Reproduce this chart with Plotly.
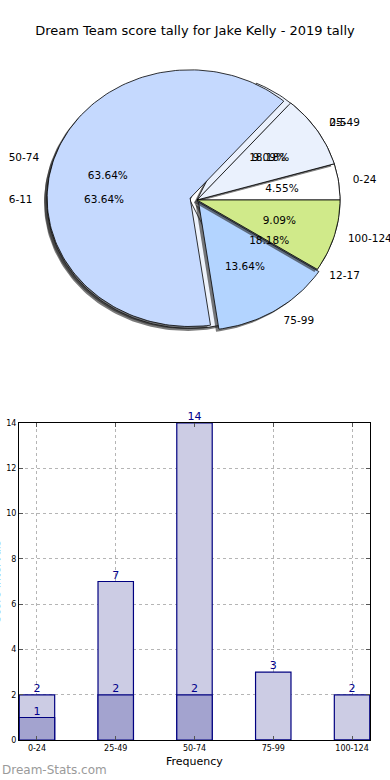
import math
import plotly.graph_objects as go

# ---------------- data ----------------
title_text = "Dream Team score tally for Jake Kelly - 2019 tally"

outer_labels = ['0-24', '25-49', '50-74', '75-99', '100-124']
outer_values = [1, 2, 14, 3, 2]
outer_colors = ['#ffffff', '#eaf1fd', '#c5d9fe', '#b3d4ff', '#d0ea8a']
outer_explode = [0, 0, 0.05, 0.02, 0]

inner_labels = ['0-5', '6-11', '12-17']
inner_values = [4, 14, 4]
inner_colors = ['#eaf1fd', '#eef3fc', '#b3d4ff']
inner_explode = [0, 0.05, 0]

bar_categories = ['0-24', '25-49', '50-74', '75-99', '100-124']
bar_totals = [2, 7, 14, 3, 2]
bar_sub = [1, 2, 2, 0, 0]

W, H = 390, 780
HE = 775.0  # effective rendered height used for pixel -> paper conversion
FONT = "DejaVu Sans"
PIE_FS = 10.5

fig = go.Figure()

# ---------------- pie (drawn as elliptical wedges, matplotlib style) ----------------
def wedge_geom(values, explode):
    total = float(sum(values))
    start = 0.0
    res = []
    for v, e in zip(values, explode):
        frac = v / total
        a0 = start * 360.0
        a1 = (start + frac) * 360.0
        mid = math.radians((a0 + a1) / 2)
        res.append(dict(a0=a0, a1=a1, mid=mid, dx=e * math.cos(mid), dy=e * math.sin(mid), frac=frac))
        start += frac
    return res


def wedge_poly(g, ox=0.0, oy=0.0):
    cx, cy = g['dx'] + ox, g['dy'] + oy
    n = max(4, int((g['a1'] - g['a0']) / 1.5))
    xs, ys = [cx], [cy]
    for i in range(n + 1):
        a = math.radians(g['a0'] + (g['a1'] - g['a0']) * i / n)
        xs.append(cx + math.cos(a))
        ys.append(cy + math.sin(a))
    xs.append(cx)
    ys.append(cy)
    return xs, ys


def add_pie(values, explode, colors):
    geoms = wedge_geom(values, explode)
    for g, c in zip(geoms, colors):
        sx, sy = wedge_poly(g, -0.02, -0.02)
        fig.add_trace(go.Scatter(x=sx, y=sy, mode='lines', fill='toself',
                                 fillcolor='rgba(35,35,35,0.6)', line=dict(width=0),
                                 xaxis='x2', yaxis='y2', hoverinfo='skip', showlegend=False))
        px, py_ = wedge_poly(g)
        fig.add_trace(go.Scatter(x=px, y=py_, mode='lines', fill='toself',
                                 fillcolor=c, line=dict(color='black', width=0.8),
                                 xaxis='x2', yaxis='y2', hoverinfo='skip', showlegend=False))
    return geoms


def add_pie_text(geoms, labels):
    for g, lab in zip(geoms, labels):
        lx = 1.1 * math.cos(g['mid']) + g['dx']
        ly = 1.1 * math.sin(g['mid']) + g['dy']
        pos = 'middle right' if lx > 0 else 'middle left'
        fig.add_trace(go.Scatter(x=[lx], y=[ly], mode='text', text=[lab], textposition=pos,
                                 textfont=dict(family=FONT, size=PIE_FS, color='black'),
                                 xaxis='x2', yaxis='y2', hoverinfo='skip', showlegend=False,
                                 cliponaxis=False))
        tx = 0.6 * math.cos(g['mid']) + g['dx']
        ty = 0.6 * math.sin(g['mid']) + g['dy']
        fig.add_trace(go.Scatter(x=[tx], y=[ty], mode='text', text=[f"{g['frac'] * 100:.2f}%"],
                                 textposition='middle center',
                                 textfont=dict(family=FONT, size=PIE_FS, color='black'),
                                 xaxis='x2', yaxis='y2', hoverinfo='skip', showlegend=False,
                                 cliponaxis=False))


g_in = add_pie(inner_values, inner_explode, inner_colors)
g_out = add_pie(outer_values, outer_explode, outer_colors)
add_pie_text(g_in, inner_labels)
add_pie_text(g_out, outer_labels)

# pie geometry in pixels: centre (198,198), radii 143 x 129
PCX, PCY, RX, RY = 197.0, 197.0, 143.0, 129.0
pie_top_px, pie_bot_px = 45.0, 345.0
x2_range = [(0 - PCX) / RX, (W - PCX) / RX]
y2_range = [(PCY - pie_bot_px) / RY, (PCY - pie_top_px) / RY]

# ---------------- bars ----------------
fig.add_trace(go.Bar(x=bar_categories, y=bar_totals, width=0.45,
                     marker=dict(color='#ccccE4', line=dict(color='#000080', width=1.2)),
                     xaxis='x', yaxis='y', hoverinfo='skip', showlegend=False))
fig.add_trace(go.Bar(x=bar_categories, y=bar_sub, width=0.45,
                     marker=dict(color='#a3a3cf', line=dict(color='#000080', width=1.2)),
                     xaxis='x', yaxis='y', hoverinfo='skip', showlegend=False))
fig.add_trace(go.Scatter(x=bar_categories, y=bar_totals, mode='text',
                         text=[str(v) for v in bar_totals], textposition='top center',
                         textfont=dict(family=FONT, size=11, color='#00008b'),
                         xaxis='x', yaxis='y', hoverinfo='skip', showlegend=False, cliponaxis=False))
fig.add_trace(go.Scatter(x=bar_categories, y=bar_sub, mode='text',
                         text=[str(v) if v > 0 else '' for v in bar_sub], textposition='top center',
                         textfont=dict(family=FONT, size=11, color='#00008b'),
                         xaxis='x', yaxis='y', hoverinfo='skip', showlegend=False, cliponaxis=False))

bar_left, bar_right, bar_top, bar_bot = 19.0, 370.0, 421.0, 740.0


def py(p):
    return 1 - p / HE


fig.update_layout(
    width=W, height=H,
    margin=dict(l=0, r=0, t=0, b=0),
    paper_bgcolor='white', plot_bgcolor='white',
    barmode='overlay',
    font=dict(family=FONT, color='black'),
    title=dict(text=title_text, x=0.5, xanchor='center', y=py(30), yanchor='middle',
               font=dict(family=FONT, size=13, color='black')),
    xaxis=dict(domain=[bar_left / W, bar_right / W], range=[-0.228, 4.228],
               showline=True, linecolor='black', linewidth=1, mirror='ticks',
               ticks='inside', ticklen=4, tickcolor='#555',
               showgrid=True, gridcolor='#b5b5b5', griddash='dot', gridwidth=1,
               tickfont=dict(family=FONT, size=8, color='black'), zeroline=False),
    yaxis=dict(domain=[py(bar_bot), py(bar_top)], range=[0, 14], dtick=2,
               showline=True, linecolor='black', linewidth=1, mirror='ticks',
               ticks='inside', ticklen=4, tickcolor='#555',
               showgrid=True, gridcolor='#b5b5b5', griddash='dot', gridwidth=1,
               tickfont=dict(family=FONT, size=8, color='black'), zeroline=False),
    xaxis2=dict(domain=[0, 1], range=x2_range, visible=False, fixedrange=True),
    yaxis2=dict(domain=[py(pie_bot_px), py(pie_top_px)], range=y2_range,
                visible=False, fixedrange=True),
    annotations=[
        dict(text='Frequency', xref='paper', yref='paper', x=(bar_left + bar_right) / 2 / W,
             y=py(761), xanchor='center', yanchor='middle', showarrow=False,
             font=dict(family=FONT, size=11, color='black')),
        dict(text='Score Intervals', xref='paper', yref='paper', x=0, xshift=-3,
             y=py((bar_top + bar_bot) / 2), xanchor='center', yanchor='middle',
             textangle=-90, showarrow=False, font=dict(family=FONT, size=11, color='black')),
        dict(text='Dream-Stats.com', xref='paper', yref='paper', x=0, y=py(770),
             xanchor='left', yanchor='middle', showarrow=False,
             font=dict(family=FONT, size=12, color='#9a9a9a')),
    ],
)

fig.write_html("out.html", config=dict(displayModeBar=False),
               post_script="document.body.style.margin='0px';document.body.style.overflow='hidden';")
